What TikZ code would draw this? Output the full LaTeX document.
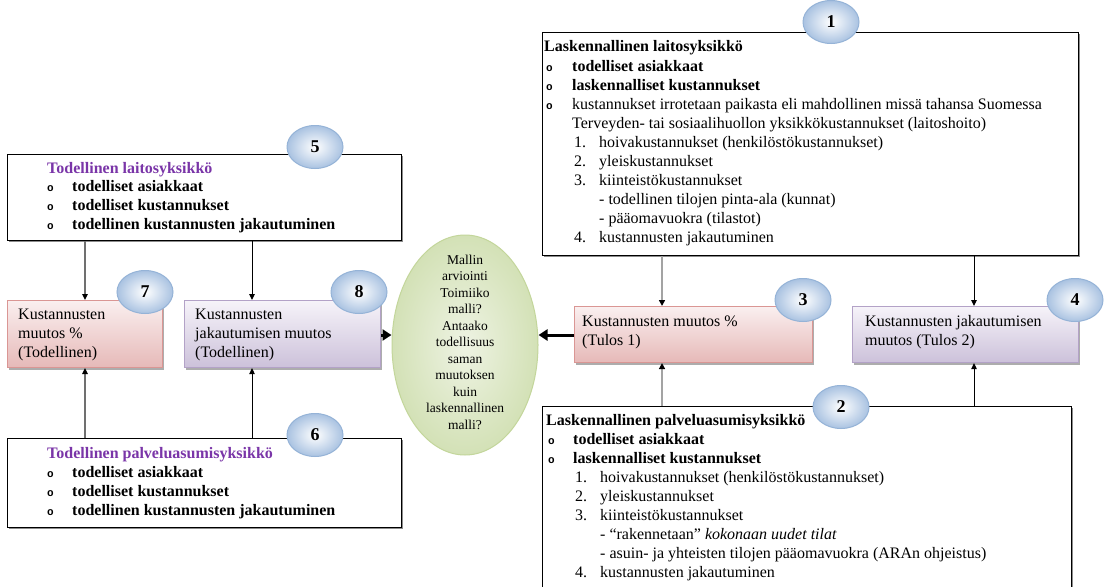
\documentclass[tikz,border=0pt]{standalone}
\usepackage{fontspec}
\setmainfont{Liberation Serif}
\newfontfamily\bulfont{Liberation Mono}
\usetikzlibrary{shapes.geometric,arrows.meta,shadows}
\definecolor{pinkline}{HTML}{DA9694}
\definecolor{pinktop}{HTML}{FAEFEF}
\definecolor{pinkbot}{HTML}{E6B9B8}
\definecolor{purline}{HTML}{B3A2C7}
\definecolor{purtop}{HTML}{F6F3F9}
\definecolor{purbot}{HTML}{CCC1DA}
\definecolor{circline}{HTML}{95B3D7}
\definecolor{circout}{HTML}{A9C2E1}
\definecolor{ellline}{HTML}{C3D69B}
\definecolor{ellin}{HTML}{EEF3E3}
\definecolor{ellout}{HTML}{D3E1B6}
\definecolor{headpur}{HTML}{7A35A8}
\definecolor{conngray}{HTML}{8C8C8C}
\newcommand\tlin[5]{\node[#2] (#1) at (#3,#4) {#5};}
\newcommand\bult[3]{\node[bul] (#1) at (#2,#3) {o};}
\tikzset{
  txt/.style={inner sep=0pt, anchor=base west, font=\fontsize{16}{19}\selectfont},
  btxt/.style={txt, font=\fontsize{16}{19}\selectfont\bfseries},
  ptxt/.style={btxt, text=headpur},
  bul/.style={inner sep=0pt, anchor=base west, font=\bulfont\bfseries\fontsize{11}{12}\selectfont},
  boxbase/.style={anchor=north west, inner sep=0pt, rectangle},
  wbox/.style={boxbase, draw=black, line width=1.2pt, fill=white,
    drop shadow={shadow xshift=1.3pt, shadow yshift=-1.3pt, fill=black!45, opacity=1}},
  pbox/.style={boxbase, draw=pinkline, line width=1.1pt, top color=pinktop, bottom color=pinkbot,
    drop shadow={shadow xshift=1.8pt, shadow yshift=-2.2pt, fill=black!40, opacity=0.8}},
  vbox/.style={boxbase, draw=purline, line width=1.1pt, top color=purtop, bottom color=purbot,
    drop shadow={shadow xshift=1.8pt, shadow yshift=-2.2pt, fill=black!40, opacity=0.8}},
  numc/.style={ellipse, draw=circline, line width=1pt, inner color=white, outer color=circout,
    minimum width=56pt, minimum height=43pt, inner sep=0pt,
    font=\fontsize{18}{20}\selectfont\bfseries},
  bline/.style={draw=black, line width=1pt, -{Triangle[length=6pt,width=5.5pt]}},
  gline/.style={draw=conngray!80!black, line width=1.3pt, -{Triangle[length=6pt,width=5.5pt,color=black]}},
  g2line/.style={draw=conngray!80, line width=2.6pt, -{Triangle[length=6pt,width=6pt,color=black]}},
  fatarrow/.style={draw=black, line width=3pt, -{Triangle[length=9pt,width=11pt]}},
}
\begin{document}
\begin{tikzpicture}[x=1pt,y=-1pt]
\useasboundingbox (0,0) rectangle (1107,586);
\clip (0,0) rectangle (1107,586);
\fill[white] (0,0) rectangle (1107,586);

% boxes
\node[wbox, minimum width=536pt, minimum height=223pt] (b1) at (542,32) {};
\node[wbox, minimum width=529pt, minimum height=214pt] (b2) at (542,406) {};
\node[pbox, minimum width=238pt, minimum height=56pt] (b3) at (574,306) {};
\node[vbox, minimum width=226pt, minimum height=56pt] (b4) at (852,306) {};
\node[wbox, minimum width=394pt, minimum height=86pt] (b5) at (7,154) {};
\node[wbox, minimum width=394pt, minimum height=89pt] (b6) at (7,438) {};
\node[pbox, minimum width=155pt, minimum height=67pt] (b7) at (7,300) {};
\node[vbox, minimum width=196pt, minimum height=67pt] (b8) at (184,300) {};
\node[ellipse, draw=ellline, line width=1pt, inner color=ellin, outer color=ellout,
      minimum width=146pt, minimum height=220pt, inner sep=0pt] (ell) at (465,345) {};

% connectors
\coordinate (x85) at (85,0);
\coordinate (x252) at (252,0);
\coordinate (x662) at (662,0);
\coordinate (x974) at (974,0);
\coordinate (yar) at (0,335);
\draw[gline] (b5.south -| x85) -- (b7.north -| x85);
\draw[bline] (b5.south -| x252) -- (b8.north -| x252);
\draw[gline] (b6.north -| x85) -- (b7.south -| x85);
\draw[bline] (b6.north -| x252) -- (b8.south -| x252);
\draw[g2line] (b1.south -| x662) -- (b3.north -| x662);
\draw[bline] (b1.south -| x974) -- (b4.north -| x974);
\draw[g2line] (b2.north -| x662) -- (b3.south -| x662);
\draw[bline] (b2.north -| x974) -- (b4.south -| x974);
\draw[fatarrow] (b8.east |- yar) -- (ell.west |- yar);
\draw[fatarrow] (b3.west |- yar) -- (ell.east |- yar);

% ellipse text
\node[inner sep=0pt, align=center, font=\fontsize{13.5}{16.5}\selectfont] (elltxt) at (465,342)
  {Mallin\\arviointi\\Toimiiko\\malli?\\Antaako\\todellisuus\\saman\\muutoksen\\kuin\\laskennallinen\\malli?};

% box 1 text
\tlin{h1}{btxt}{544}{52}{Laskennallinen laitosyksikkö}
\bult{u1a}{546}{71}\tlin{t1a}{btxt}{572}{71}{todelliset asiakkaat}
\bult{u1b}{546}{90}\tlin{t1b}{btxt}{572}{90}{laskennalliset kustannukset}
\bult{u1c}{546}{109}\tlin{t1c}{txt}{572}{109}{kustannukset irrotetaan paikasta eli mahdollinen missä tahansa Suomessa}
\tlin{t1d}{txt}{572}{128}{Terveyden- tai sosiaalihuollon yksikkökustannukset (laitoshoito)}
\tlin{n1a}{txt}{574}{147}{1.}\tlin{t1e}{txt}{599}{147}{hoivakustannukset (henkilöstökustannukset)}
\tlin{n1b}{txt}{574}{166}{2.}\tlin{t1f}{txt}{599}{166}{yleiskustannukset}
\tlin{n1c}{txt}{574}{185}{3.}\tlin{t1g}{txt}{599}{185}{kiinteistökustannukset}
\tlin{t1h}{txt}{599}{204}{- todellinen tilojen pinta-ala (kunnat)}
\tlin{t1i}{txt}{599}{223}{- pääomavuokra (tilastot)}
\tlin{n1d}{txt}{574}{242}{4.}\tlin{t1j}{txt}{599}{242}{kustannusten jakautuminen}

% box 2 text
\tlin{h2}{btxt}{546}{425}{Laskennallinen palveluasumisyksikkö}
\bult{u2a}{548}{444}\tlin{t2a}{btxt}{573}{444}{todelliset asiakkaat}
\bult{u2b}{548}{463}\tlin{t2b}{btxt}{573}{463}{laskennalliset kustannukset}
\tlin{n2a}{txt}{575}{482}{1.}\tlin{t2c}{txt}{600}{482}{hoivakustannukset (henkilöstökustannukset)}
\tlin{n2b}{txt}{575}{501}{2.}\tlin{t2d}{txt}{600}{501}{yleiskustannukset}
\tlin{n2c}{txt}{575}{520}{3.}\tlin{t2e}{txt}{600}{520}{kiinteistökustannukset}
\tlin{t2f}{txt}{600}{539}{- “rakennetaan” \textit{kokonaan uudet tilat}}
\tlin{t2g}{txt}{600}{558}{- asuin- ja yhteisten tilojen pääomavuokra (ARAn ohjeistus)}
\tlin{n2d}{txt}{575}{577}{4.}\tlin{t2h}{txt}{600}{577}{kustannusten jakautuminen}

% box 5 text
\tlin{h5}{ptxt}{47}{173}{Todellinen laitosyksikkö}
\bult{u5a}{47}{191}\tlin{t5a}{btxt}{72}{191}{todelliset asiakkaat}
\bult{u5b}{47}{210}\tlin{t5b}{btxt}{72}{210}{todelliset kustannukset}
\bult{u5c}{47}{229}\tlin{t5c}{btxt}{72}{229}{todellinen kustannusten jakautuminen}

% box 6 text
\tlin{h6}{ptxt}{47}{458}{Todellinen palveluasumisyksikkö}
\bult{u6a}{47}{477}\tlin{t6a}{btxt}{72}{477}{todelliset asiakkaat}
\bult{u6b}{47}{496}\tlin{t6b}{btxt}{72}{496}{todelliset kustannukset}
\bult{u6c}{47}{515}\tlin{t6c}{btxt}{72}{515}{todellinen kustannusten jakautuminen}

% small boxes text
\tlin{t7a}{txt}{18}{319}{Kustannusten}
\tlin{t7b}{txt}{18}{338}{muutos \%}
\tlin{t7c}{txt}{18}{357}{(Todellinen)}
\tlin{t8a}{txt}{195}{319}{Kustannusten}
\tlin{t8b}{txt}{195}{338}{jakautumisen muutos}
\tlin{t8c}{txt}{195}{357}{(Todellinen)}
\tlin{t3a}{txt}{582}{326}{Kustannusten muutos \%}
\tlin{t3b}{txt}{582}{345}{(Tulos 1)}
\tlin{t4a}{txt}{865}{326}{Kustannusten jakautumisen}
\tlin{t4b}{txt}{865}{345}{muutos (Tulos 2)}

% number circles
\node[numc] (c1) at (831,22) {1};
\node[numc] (c2) at (841,407) {2};
\node[numc] (c3) at (803,300) {3};
\node[numc] (c4) at (1075,300) {4};
\node[numc] (c5) at (315,147) {5};
\node[numc] (c6) at (315,435) {6};
\node[numc] (c7) at (145,292) {7};
\node[numc] (c8) at (359,292) {8};
\end{tikzpicture}
\end{document}
